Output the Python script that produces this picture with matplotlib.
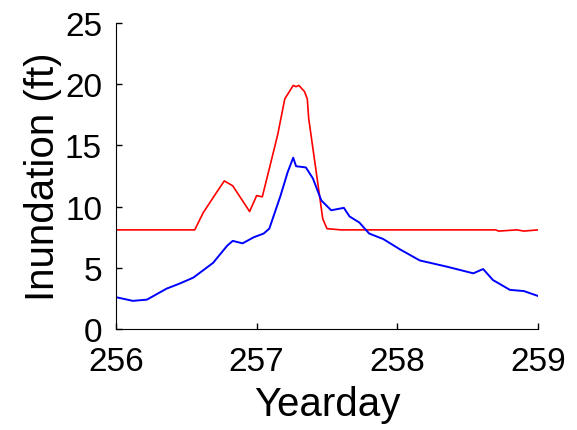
import matplotlib
matplotlib.use('Agg')
import matplotlib.pyplot as plt

plt.rcParams['font.family'] = ['Liberation Sans', 'DejaVu Sans']

# Observed inundation (blue) and model / threshold inundation (red), feet
blue_day = [256.0, 256.12, 256.22, 256.36, 256.45, 256.55, 256.69, 256.79, 256.83,
            256.9, 256.98, 257.05, 257.09, 257.17, 257.22, 257.26, 257.28, 257.35,
            257.4, 257.46, 257.53, 257.62, 257.66, 257.73, 257.8, 257.9, 258.02,
            258.16, 258.35, 258.54, 258.61, 258.68, 258.8, 258.9, 259.0]
blue_ft = [2.6, 2.3, 2.4, 3.3, 3.7, 4.2, 5.4, 6.8, 7.2,
           7.0, 7.5, 7.8, 8.2, 10.9, 12.8, 14.0, 13.3, 13.2,
           12.3, 10.5, 9.7, 9.9, 9.2, 8.7, 7.8, 7.35, 6.5,
           5.6, 5.1, 4.55, 4.9, 4.0, 3.2, 3.1, 2.7]

red_day = [256.0, 256.56, 256.62, 256.7, 256.77, 256.83, 256.95, 257.0, 257.04,
           257.09, 257.15, 257.2, 257.26, 257.28, 257.3, 257.34, 257.36, 257.37,
           257.43, 257.47, 257.5, 257.6, 258.7, 258.72, 258.85, 258.9, 259.0]
red_ft = [8.1, 8.1, 9.5, 10.9, 12.1, 11.7, 9.6, 10.9, 10.8,
          13.1, 15.9, 18.8, 19.9, 19.8, 19.9, 19.4, 18.8, 17.2,
          12.3, 9.0, 8.2, 8.1, 8.1, 8.0, 8.1, 8.0, 8.1]

xticks = [256, 257, 258, 259]
yticks = [0, 5, 10, 15, 20, 25]

fig = plt.figure(figsize=(5.77, 4.31), dpi=100)
ax = fig.add_axes([0.201, 0.2343, 0.7314, 0.71])

ax.plot(red_day, red_ft, color='red', lw=1.2)
ax.plot(blue_day, blue_ft, color='blue', lw=1.4)

ax.set_xlim(256, 259)
ax.set_ylim(0, 25)
ax.set_xticks(xticks)
ax.set_yticks(yticks)
ax.spines['top'].set_visible(False)
ax.spines['right'].set_visible(False)
ax.tick_params(direction='in', length=4, width=1, labelsize=24)
ax.tick_params(axis='x', pad=12)
ax.tick_params(axis='y', pad=10)

ax.set_xlabel('Yearday', fontsize=29, labelpad=6)
ax.set_ylabel('Inundation (ft)', fontsize=29, labelpad=2)

plt.savefig('out.png', dpi=100)
